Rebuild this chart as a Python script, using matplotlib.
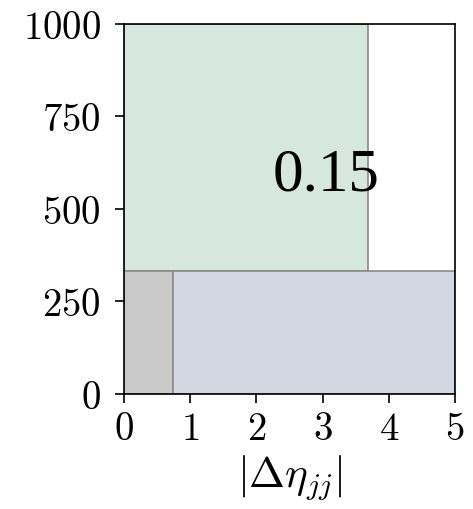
import matplotlib
matplotlib.use("Agg")
import matplotlib.pyplot as plt
from matplotlib.patches import Rectangle
from matplotlib.ticker import FuncFormatter

plt.rcParams['mathtext.fontset'] = 'cm'

# regions: (x0, x1, y0, y1, color)
region_x0 = [0.0, 0.0, 0.74]
region_x1 = [3.68, 0.74, 5.0]
region_y0 = [333, 0, 0]
region_y1 = [1000, 333, 333]
region_colors = ['#d6e7df', '#c9c9c9', '#d1d8e3']
annotation_text = "0.15"
annotation_xy = (3.05, 590)
xticks = [0, 1, 2, 3, 4, 5]
yticks = [0, 250, 500, 750, 1000]

fig = plt.figure(figsize=(4.73, 5.09), dpi=100)
ax = fig.add_axes([0.262, 0.226, 0.700, 0.727])
for x0, x1, y0, y1, c in zip(region_x0, region_x1, region_y0, region_y1, region_colors):
    ax.add_patch(Rectangle((x0, y0), x1 - x0, y1 - y0, facecolor=c,
                           edgecolor='#8a8a8a', linewidth=1.2))
ax.text(*annotation_xy, annotation_text, fontsize=44, family='Liberation Serif',
        ha='center', va='center')
ax.set_xlim(0, 5)
ax.set_ylim(0, 1000)
ax.set_xticks(xticks)
ax.set_yticks(yticks)
fmt = FuncFormatter(lambda v, p: r'$%d$' % v)
ax.xaxis.set_major_formatter(fmt)
ax.yaxis.set_major_formatter(fmt)
ax.tick_params(labelsize=28, length=6.5, width=1.2)
ax.tick_params(axis='x', pad=5)
ax.tick_params(axis='y', pad=10)
for s in ax.spines.values():
    s.set_linewidth(1.2)
ax.set_xlabel(r'$|\Delta\eta_{jj}|$', fontsize=31, labelpad=4)
fig.savefig('out.png', dpi=100)
